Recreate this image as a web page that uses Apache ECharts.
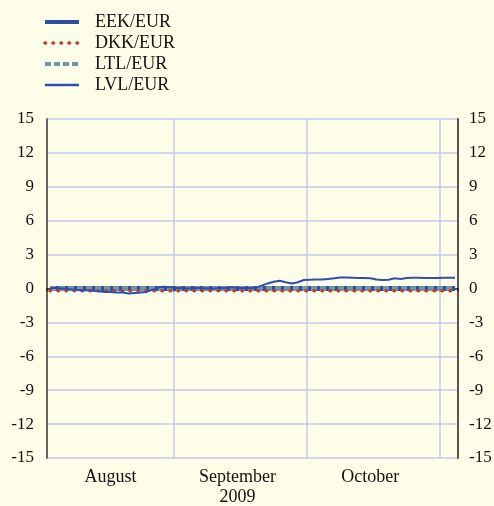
<!DOCTYPE html>
<html>
<head>
<meta charset="utf-8">
<script src="https://cdn.jsdelivr.net/npm/echarts@6/dist/echarts.min.js"></script>
<style>
  html, body { margin: 0; padding: 0; background: #fefde8; }
  #chart { width: 494px; height: 506px; }
</style>
</head>
<body>
<div id="chart"></div>
<script>
// Business days, 3 Aug – 4 Nov 2009
const augDays = [3,4,5,6,7,10,11,12,13,14,17,18,19,20,21,24,25,26,27,28,31];
const sepDays = [1,2,3,4,7,8,9,10,11,14,15,16,17,18,21,22,23,24,25,28,29,30];
const octDays = [1,2,5,6,7,8,9,12,13,14,15,16,19,20,21,22,23,26,27,28,29,30];
const novDays = [2,3,4];

const monthNames = ['August', 'September', 'October', 'November'];
const yearLabel = '2009';
const yTicks = { min: -15, max: 15, step: 3 };

// Deviation from central parity, %
const eekEur = [
  0,0,0,0,0,0,0,0,0,0,0,0,0,0,0,0,0,0,0,0,0,
  0,0,0,0,0,0,0,0,0,0,0,0,0,0,0,0,0,0,0,0,0,0,
  0,0,0,0,0,0,0,0,0,0,0,0,0,0,0,0,0,0,0,0,0,0,
  0,0,0
];
const dkkEur = [
  -0.2,-0.2,-0.2,-0.2,-0.2,-0.2,-0.2,-0.2,-0.2,-0.2,-0.2,-0.2,-0.2,-0.2,-0.2,-0.2,-0.2,-0.2,-0.2,-0.2,-0.2,
  -0.2,-0.2,-0.2,-0.2,-0.2,-0.2,-0.2,-0.2,-0.2,-0.2,-0.2,-0.2,-0.2,-0.2,-0.2,-0.2,-0.2,-0.2,-0.2,-0.2,-0.2,-0.2,
  -0.2,-0.2,-0.2,-0.2,-0.2,-0.2,-0.2,-0.2,-0.2,-0.2,-0.2,-0.2,-0.2,-0.2,-0.2,-0.2,-0.2,-0.2,-0.2,-0.2,-0.2,-0.2,
  -0.2,-0.2,-0.2
];
const ltlEur = [
  0,0,0,0,0,0,0,0,0,0,0,0,0,0,0,0,0,0,0,0,0,
  0,0,0,0,0,0,0,0,0,0,0,0,0,0,0,0,0,0,0,0,0,0,
  0,0,0,0,0,0,0,0,0,0,0,0,0,0,0,0,0,0,0,0,0,0,
  0,0,0
];
const lvlEur = [
  0.05,0.05,0,-0.05,-0.1,-0.15,-0.15,-0.2,-0.25,-0.3,-0.3,-0.35,-0.35,-0.45,-0.4,-0.35,-0.3,-0.1,0.1,0.15,0.1,
  0.05,0.05,0,0.05,0.05,0,0,0.05,0.05,0.1,0.05,0.05,0.05,0.05,0.25,0.45,0.6,0.68,0.55,0.45,0.55,0.75,
  0.78,0.8,0.8,0.85,0.9,0.98,0.97,0.95,0.93,0.92,0.9,0.8,0.75,0.78,0.9,0.85,0.92,0.95,0.95,0.93,0.92,0.93,
  0.95,0.95,0.95
];

// Category list and month bookkeeping
const categories = [];
const monthOfIndex = [];
[augDays, sepDays, octDays, novDays].forEach((days, m) => {
  days.forEach(d => { categories.push(monthNames[m].slice(0, 3) + ' ' + d); monthOfIndex.push(m); });
});
const monthStart = new Set();
const monthMid = {};
monthOfIndex.forEach((m, i) => { if (i === 0 || monthOfIndex[i - 1] !== m) monthStart.add(i); });
[augDays, sepDays, octDays].forEach((days, m) => {
  const first = monthOfIndex.indexOf(m);
  monthMid[first + Math.floor((days.length - 1) / 2)] = m;
});

const serif = '"Liberation Serif", "Times New Roman", serif';
const gridColor = '#c6c9ea';

const chart = echarts.init(document.getElementById('chart'), null, { renderer: 'canvas' });
chart.setOption({
  backgroundColor: '#fefde8',
  animation: false,
  textStyle: { fontFamily: serif },
  legend: {
    orient: 'vertical',
    left: 43,
    top: 13,
    padding: 0,
    itemWidth: 34,
    itemHeight: 14,
    itemGap: 3,
    // line-only keys: the series marker is hidden
    itemStyle: { opacity: 0, borderWidth: 0 },
    data: [
      { name: 'EEK/EUR', lineStyle: { width: 4 } },
      { name: 'DKK/EUR', lineStyle: { width: 3.5 } },
      { name: 'LTL/EUR', lineStyle: { width: 4 } },
      { name: 'LVL/EUR', lineStyle: { width: 2.5 } }
    ],
    textStyle: { fontFamily: serif, fontSize: 18, color: '#111', padding: [0, 0, 0, 11] }
  },
  grid: { left: 47, right: 36, top: 119, bottom: 48, containLabel: false, outerBoundsMode: 'none' },
  xAxis: {
    type: 'category',
    data: categories,
    boundaryGap: true,
    axisLine: { show: true, lineStyle: { color: '#222', width: 1.5 } },
    axisTick: {
      show: true, length: 3, inside: false,
      interval: (i) => monthStart.has(i),
      lineStyle: { color: '#222', width: 1.5 }
    },
    splitLine: {
      show: true,
      interval: (i) => monthStart.has(i),
      lineStyle: { color: gridColor, width: 1.5 }
    },
    axisLabel: {
      interval: (i) => monthMid[i] !== undefined,
      formatter: (v, i) => {
        const m = monthMid[i];
        return m === 1 ? monthNames[m] + '\n' + yearLabel : monthNames[m];
      },
      fontFamily: serif, fontSize: 18, color: '#111',
      margin: 9, lineHeight: 20
    }
  },
  yAxis: [
    {
      type: 'value', position: 'left',
      min: yTicks.min, max: yTicks.max, interval: yTicks.step,
      axisLine: { show: true, lineStyle: { color: '#666', width: 2 } },
      axisTick: { show: false },
      splitLine: { show: true, lineStyle: { color: gridColor, width: 1.5 } },
      axisLabel: { fontFamily: serif, fontSize: 17, color: '#111', margin: 13 }
    },
    {
      type: 'value', position: 'right',
      min: yTicks.min, max: yTicks.max, interval: yTicks.step,
      axisLine: { show: true, lineStyle: { color: '#555', width: 2 } },
      axisTick: { show: false },
      splitLine: { show: false },
      axisLabel: { fontFamily: serif, fontSize: 17, color: '#111', margin: 11 }
    }
  ],
  series: [
    {
      name: 'EEK/EUR', type: 'line', data: eekEur, symbol: 'none', z: 2,
      color: '#2f4fa6',
      lineStyle: { color: '#2f4fa6', width: 5 }
    },
    {
      name: 'LTL/EUR', type: 'line', data: ltlEur, symbol: 'none', z: 3,
      color: '#6c97a3',
      lineStyle: { color: '#6c97a3', width: 5, type: [6, 3] }
    },
    {
      name: 'DKK/EUR', type: 'line', data: dkkEur, symbol: 'none', z: 4,
      color: '#c23b30',
      lineStyle: { color: '#c23b30', width: 3.5, type: [0.5, 7.5], cap: 'round' }
    },
    {
      name: 'LVL/EUR', type: 'line', data: lvlEur, symbol: 'none', z: 5,
      color: '#2f4fb0',
      lineStyle: { color: '#2f4fb0', width: 2 }
    }
  ]
});
</script>
</body>
</html>
